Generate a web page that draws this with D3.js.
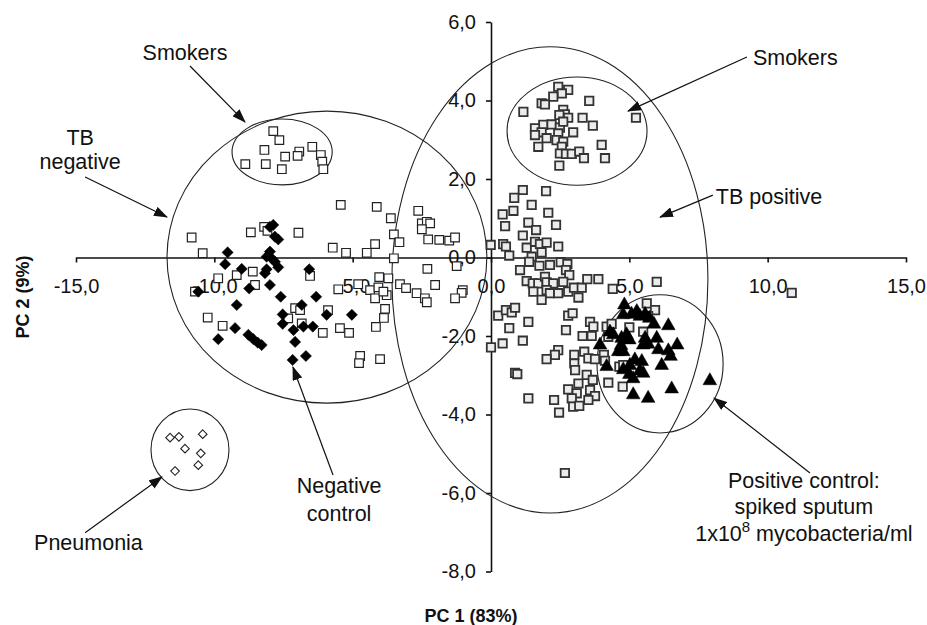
<!DOCTYPE html>
<html>
<head>
<meta charset="utf-8">
<script src="https://cdn.jsdelivr.net/npm/d3@7"></script>
<style>
body { margin: 0; background: #fff; }
svg { display: block; }
text { font-family: "Liberation Sans", Arial, sans-serif; fill: #111; }
</style>
</head>
<body>
<div id="chart"></div>
<script>
// axis ticks
var xTicks = [-15, -10, -5, 0, 5, 10, 15];
var yTicks = [-8, -6, -4, -2, 0, 2, 4, 6];

// TB negative patients (open squares)
var tbNegative = [
  [-10.82, 0.51], [-10.42, 0.11], [-8.68, 0.64], [-8.20, 0.78], [-8.08, 0.68], [-6.96, 0.63],
  [-8.61, -0.36], [-9.19, -0.45], [-9.86, -0.53], [-10.70, -0.87], [-8.53, -0.70], [-6.54, -0.47],
  [-10.24, -1.53], [-9.70, -1.74], [-7.08, -1.29], [-6.90, -1.34], [-7.33, -1.55], [-6.84, -1.68],
  [-6.08, -1.92], [-5.89, -1.34], [-5.46, -1.80], [-5.13, -1.92], [-4.73, -2.51], [-4.77, -2.69],
  [-4.01, -2.59], [-4.16, -1.77], [-3.87, -1.54], [-3.83, -1.31],
  [-5.43, 1.34], [-4.13, 1.29], [-3.62, 1.00], [-2.63, 1.19], [-2.50, 0.87], [-2.32, 0.91],
  [-2.20, 0.87], [-2.50, 0.72], [-3.51, 0.59], [-3.31, 0.39], [-2.27, 0.46], [-1.87, 0.45],
  [-1.51, 0.43], [-1.30, 0.51], [-5.72, 0.25], [-5.24, 0.12], [-4.49, 0.12], [-4.19, 0.34],
  [-3.51, -0.02], [-2.30, -0.29], [-1.24, -0.22], [-4.04, -0.50], [-3.71, -0.53], [-2.02, -0.70],
  [-3.29, -0.68], [-3.07, -0.78], [-2.69, -0.91], [-2.39, -1.04], [-2.32, -1.14], [-1.02, -0.83],
  [-1.06, -0.90], [-1.30, -1.04], [-5.52, -0.81], [-4.80, -0.68], [-4.37, -0.83], [-4.07, -0.76],
  [-4.19, -1.04], [-3.77, -0.96], [-3.89, -0.87]
];

// TB negative smokers (open squares)
var smokersNegative = [
  [-7.87, 3.22], [-7.65, 2.99], [-8.19, 2.74], [-7.44, 2.57], [-6.93, 2.70], [-6.99, 2.59],
  [-6.46, 2.82], [-6.15, 2.61], [-6.10, 2.44], [-6.06, 2.25], [-8.88, 2.38], [-8.14, 2.38],
  [-7.56, 2.25]
];

// negative control (filled diamonds)
var negativeControl = [
  [-7.87, 0.83], [-7.99, 0.78], [-7.81, 0.53], [-7.69, 0.46], [-9.52, 0.13], [-7.99, 0.15],
  [-8.11, 0.02], [-7.93, -0.02], [-7.81, -0.11], [-7.69, -0.25], [-8.11, -0.30], [-8.17, -0.40],
  [-9.61, -0.17], [-9.01, -0.29], [-6.57, -0.30], [-8.74, -0.79], [-7.99, -0.70], [-10.58, -0.87],
  [-7.60, -1.00], [-6.32, -1.00], [-9.19, -1.21], [-6.84, -1.21], [-7.53, -1.45], [-5.94, -1.46],
  [-7.53, -1.69], [-7.14, -1.85], [-6.78, -1.76], [-6.44, -1.76], [-9.25, -1.80], [-9.86, -2.08],
  [-8.77, -1.97], [-8.59, -2.08], [-8.43, -2.17], [-8.29, -2.23], [-7.08, -2.15], [-6.69, -2.51],
  [-7.17, -2.61], [-5.03, -1.46]
];

// pneumonia (open diamonds)
var pneumonia = [
  [-11.60, -4.59], [-11.28, -4.57], [-10.42, -4.50], [-11.06, -4.87], [-10.49, -4.99],
  [-10.58, -5.29], [-11.42, -5.44]
];

// TB positive patients (grey squares)
var tbPositive = [
  [1.15, 1.72], [1.99, 1.69], [0.84, 1.52], [1.47, 1.34], [0.81, 1.19], [0.42, 1.10], [2.07, 1.14],
  [0.51, 0.80], [1.35, 0.89], [1.63, 0.70], [2.35, 0.83], [1.15, 0.56], [-0.01, 0.32], [0.44, 0.34],
  [0.54, 0.28], [0.66, 0.05], [1.29, 0.25], [1.59, 0.40], [1.77, 0.34], [2.01, 0.38], [2.43, 0.28],
  [1.83, 0.13], [1.47, 0.02], [1.38, -0.11], [1.05, -0.32], [1.75, -0.21], [2.13, -0.19], [2.52, -0.12],
  [2.76, -0.17], [2.71, -0.32], [2.83, -0.45], [1.29, -0.60], [1.51, -0.66], [1.71, -0.66], [1.95, -0.49],
  [2.01, -0.63], [2.25, -0.66], [2.61, -0.62], [1.53, -0.87], [2.01, -0.83], [2.13, -0.91], [2.43, -0.91],
  [1.83, -1.08], [2.79, -0.87], [3.00, -0.77], [3.28, -0.77], [3.16, -1.02], [3.48, -0.55], [3.88, -0.55],
  [4.40, -0.80], [0.26, -1.48], [0.54, -1.34], [0.75, -1.40], [0.87, -1.28], [1.35, -1.64], [2.79, -1.48],
  [2.95, -1.42], [3.58, -1.64], [0.66, -1.80], [0.42, -2.19], [0.00, -2.29], [1.15, -2.12], [2.71, -1.85],
  [3.70, -1.76], [3.31, -2.00], [3.64, -2.00], [4.18, -1.76], [4.36, -1.69], [4.24, -2.02], [2.43, -2.36],
  [2.31, -2.48], [2.01, -2.59], [3.01, -2.48], [3.37, -2.40], [3.01, -2.70], [3.52, -2.57], [3.76, -2.59],
  [4.08, -2.48], [3.04, -2.87], [0.87, -2.94], [0.95, -2.97], [3.46, -2.99], [3.68, -3.12], [3.16, -3.21],
  [2.79, -3.36], [3.10, -3.46], [3.58, -3.38], [3.76, -3.53], [3.52, -3.63], [2.92, -3.59], [2.97, -3.80],
  [3.19, -3.78], [4.24, -3.19], [4.76, -3.29], [4.64, -2.78], [1.35, -3.59], [2.28, -3.63], [2.46, -3.95],
  [2.67, -5.49], [10.87, -0.90], [5.99, -0.62], [5.63, -1.17], [5.93, -1.34], [5.68, -1.49], [5.00, -1.78],
  [5.50, -1.89], [4.12, -2.63], [4.78, -2.74]
];

// TB positive smokers (grey squares)
var smokersPositive = [
  [2.43, 4.35], [2.79, 4.27], [2.56, 4.18], [2.25, 4.10], [1.83, 3.93], [1.95, 3.90], [3.55, 3.99],
  [1.17, 3.71], [2.61, 3.76], [2.67, 3.65], [2.47, 3.63], [2.79, 3.56], [3.31, 3.56], [5.24, 3.56],
  [3.68, 3.36], [1.89, 3.38], [2.19, 3.39], [1.59, 3.29], [2.49, 3.31], [2.61, 3.46], [1.83, 3.19],
  [1.59, 3.12], [2.43, 3.16], [2.97, 3.19], [2.01, 3.04], [2.37, 2.99], [2.61, 2.95], [2.56, 2.82],
  [1.71, 2.82], [2.49, 2.65], [2.71, 2.64], [2.92, 2.64], [3.19, 2.70], [3.36, 2.53], [4.00, 2.87],
  [4.12, 2.53], [2.47, 2.34]
];

// positive control: spiked sputum (filled triangles)
var positiveControl = [
  [4.82, -1.17], [4.78, -1.42], [5.08, -1.41], [5.27, -1.34], [5.38, -1.46], [5.57, -1.41], [5.72, -1.51],
  [5.89, -1.66], [6.41, -1.70], [4.30, -1.86], [4.42, -1.93], [3.94, -2.19], [4.72, -2.02], [4.90, -1.93],
  [5.00, -2.06], [4.70, -2.20], [4.78, -2.36], [4.60, -2.36], [5.57, -2.02], [5.68, -2.17], [5.50, -2.19],
  [5.99, -2.02], [6.05, -2.31], [6.41, -2.34], [6.49, -2.48], [6.73, -2.19], [6.17, -2.71], [5.20, -2.57],
  [5.45, -2.61], [4.18, -2.74], [5.02, -2.71], [4.78, -2.82], [5.00, -2.94], [5.14, -3.05], [5.38, -2.85],
  [5.50, -2.91], [5.14, -3.46], [5.68, -3.55], [6.53, -3.31], [7.91, -3.10]
];

// group outlines: cx, cy, rx, ry (data units)
var groupNames = ["TB negative", "Smokers neg", "TB positive", "Smokers pos", "Positive control", "Pneumonia"];
var groupCx = [-5.93, -7.55, 2.13, 3.11, 6.11, -10.88];
var groupCy = [0.01, 2.69, -0.57, 3.22, -2.71, -4.90];
var groupRx = [5.78, 1.81, 5.71, 2.53, 2.28, 1.41];
var groupRy = [3.72, 0.84, 5.94, 1.38, 1.76, 1.04];

// annotation labels: lines, centre x, baselines y (data units)
var labelLines = [["Smokers"], ["TB", "negative"], ["Smokers"], ["TB positive"],
  ["Negative", "control"], ["Pneumonia"], ["Positive control:", "spiked sputum", "1x10|8| mycobacteria/ml"]];
var labelX = [-11.06, -14.85, 11.0, 10.05, -5.49, -14.55, 11.31];
var labelY = [[5.03], [2.87, 2.25], [4.90], [1.36], [-6.0, -6.71], [-7.45], [-5.87, -6.54, -7.22]];

// arrows: from -> to (data units)
var arrowFrom = [[-10.88, 4.88], [-14.67, 2.05], [9.25, 5.11], [8.02, 1.59], [-5.71, -5.54], [-14.67, -7.01], [11.53, -5.49]];
var arrowTo = [[-8.89, 3.45], [-11.71, 1.03], [4.95, 3.73], [6.11, 1.03], [-7.16, -2.79], [-11.89, -5.59], [8.06, -3.58]];

var width = 927, height = 625;

var svg = d3.select("#chart").append("svg")
    .attr("width", width)
    .attr("height", height);

var x = d3.scaleLinear().domain([-15, 15]).range([76, 906]);
var y = d3.scaleLinear().domain([-8, 6]).range([571.5, 22]);

var fmt = function(d) { return d3.format(".1f")(d).replace(".", ",").replace("\u2212", "-"); };

svg.append("defs").append("marker")
    .attr("id", "head")
    .attr("markerUnits", "userSpaceOnUse")
    .attr("viewBox", "0 0 14 10")
    .attr("refX", 13).attr("refY", 5)
    .attr("markerWidth", 14).attr("markerHeight", 10)
    .attr("orient", "auto")
    .append("path")
    .attr("d", "M0,0L14,5L0,10Z")
    .attr("fill", "#111");

// axes through the origin
var xAxis = svg.append("g")
    .attr("transform", "translate(0," + y(0) + ")")
    .call(d3.axisBottom(x).tickValues(xTicks).tickFormat(fmt).tickSize(5).tickSizeOuter(0).tickPadding(16));
var yAxis = svg.append("g")
    .attr("transform", "translate(" + x(0) + ",0)")
    .call(d3.axisLeft(y).tickValues(yTicks).tickFormat(fmt).tickSize(5).tickSizeOuter(0).tickPadding(10));

[xAxis, yAxis].forEach(function(g) {
    g.selectAll("path, line").attr("stroke", "#111").attr("stroke-width", 1.6);
    g.selectAll("text").attr("font-size", 20).attr("fill", "#111")
        .style("font-family", "'Liberation Sans', Arial, sans-serif");
});

svg.append("text")
    .attr("x", 471).attr("y", 622)
    .attr("text-anchor", "middle")
    .attr("font-size", 18).attr("font-weight", "bold")
    .text("PC 1 (83%)");

svg.append("text")
    .attr("transform", "translate(29,297) rotate(-90)")
    .attr("text-anchor", "middle")
    .attr("font-size", 18).attr("font-weight", "bold")
    .text("PC 2 (9%)");

// group ellipses
svg.append("g").selectAll("ellipse")
    .data(groupNames)
    .enter().append("ellipse")
    .attr("cx", function(d, i) { return x(groupCx[i]); })
    .attr("cy", function(d, i) { return y(groupCy[i]); })
    .attr("rx", function(d, i) { return x(groupRx[i]) - x(0); })
    .attr("ry", function(d, i) { return y(0) - y(groupRy[i]); })
    .attr("fill", "none")
    .attr("stroke", "#222")
    .attr("stroke-width", 1.1);

function squarePath(s) { return "M" + (-s) + "," + (-s) + "h" + (2 * s) + "v" + (2 * s) + "h" + (-2 * s) + "Z"; }
function diamondPath(s) { return "M0," + (-s) + "L" + s + ",0L0," + s + "L" + (-s) + ",0Z"; }
function trianglePath(s) { return "M0," + (-s) + "L" + (s * 1.05) + "," + (s * 0.85) + "L" + (-s * 1.05) + "," + (s * 0.85) + "Z"; }

function drawPoints(data, shape, fill, stroke, sw) {
    svg.append("g").selectAll("path")
        .data(data)
        .enter().append("path")
        .attr("transform", function(d) { return "translate(" + x(d[0]) + "," + y(d[1]) + ")"; })
        .attr("d", shape)
        .attr("fill", fill)
        .attr("stroke", stroke)
        .attr("stroke-width", sw);
}

drawPoints(tbNegative, squarePath(4.3), "#fff", "#222", 1.2);
drawPoints(smokersNegative, squarePath(4.3), "#fff", "#222", 1.2);
drawPoints(negativeControl, diamondPath(5.6), "#000", "#000", 0.5);
drawPoints(pneumonia, diamondPath(4.3), "#fff", "#222", 1.1);
drawPoints(tbPositive, squarePath(4.2), "#ececec", "#333", 1.8);
drawPoints(smokersPositive, squarePath(4.2), "#ececec", "#333", 1.8);
drawPoints(positiveControl, trianglePath(6.5), "#000", "#000", 0.5);

// arrows
svg.append("g").selectAll("line")
    .data(arrowFrom)
    .enter().append("line")
    .attr("x1", function(d) { return x(d[0]); })
    .attr("y1", function(d) { return y(d[1]); })
    .attr("x2", function(d, i) { return x(arrowTo[i][0]); })
    .attr("y2", function(d, i) { return y(arrowTo[i][1]); })
    .attr("stroke", "#111")
    .attr("stroke-width", 1.2)
    .attr("marker-end", "url(#head)");

// annotation text
labelLines.forEach(function(lines, i) {
    lines.forEach(function(line, j) {
        var t = svg.append("text")
            .attr("x", x(labelX[i]))
            .attr("y", y(labelY[i][j]))
            .attr("text-anchor", "middle")
            .attr("font-size", 21.5);
        var parts = line.split("|");
        if (parts.length === 1) {
            t.text(line);
        } else {
            t.append("tspan").text(parts[0]);
            t.append("tspan").attr("dy", -9).attr("font-size", 15).text(parts[1]);
            t.append("tspan").attr("dy", 9).text(parts[2]);
        }
    });
});
</script>
</body>
</html>
